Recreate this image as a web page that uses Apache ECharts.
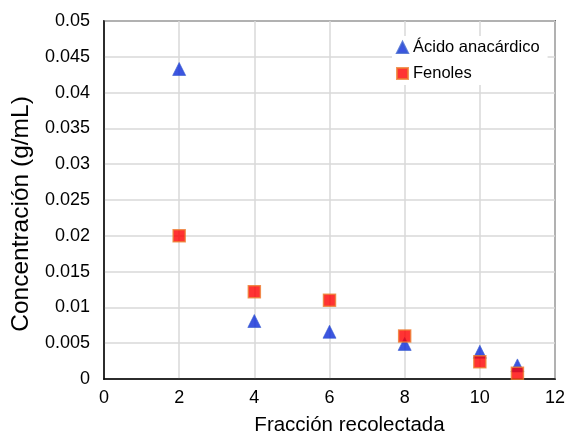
<!DOCTYPE html>
<html>
<head>
<meta charset="utf-8">
<script src="https://cdn.jsdelivr.net/npm/echarts@6/dist/echarts.min.js"></script>
<style>
  html, body { margin: 0; padding: 0; background: #fff; }
  #chart { width: 565px; height: 432px; }
</style>
</head>
<body>
<div id="chart"></div>
<script>
// Fraction numbers and measured concentrations (g/mL)
const fracciones = [2, 4, 6, 8, 10, 11];
const acidoAnacardico = [0.0433, 0.0081, 0.0066, 0.0049, 0.0038, 0.0019];
const fenoles = [0.0200, 0.0122, 0.0110, 0.0060, 0.0024, 0.0008];

const FONT = '"Liberation Sans", Arial, sans-serif';

const toPairs = (xs, ys) => xs.map((x, i) => [x, ys[i]]);

const chart = echarts.init(document.getElementById('chart'), null, { renderer: 'canvas' });

chart.setOption({
  animation: false,
  backgroundColor: '#ffffff',
  grid: { left: 104, right: 10, top: 21, bottom: 53, containLabel: false,
          outerBoundsMode: 'none',
          show: true, borderColor: '#000', borderWidth: 1.5 },
  legend: {
    orient: 'vertical',
    left: 392,
    top: 36,
    backgroundColor: '#ffffff',
    padding: [3, 8, 3, 4],
    itemWidth: 11,
    itemHeight: 11,
    itemGap: 9,
    textStyle: { fontFamily: FONT, fontSize: 16.5, color: '#000' },
    data: [
      { name: 'Ácido anacárdico', icon: 'triangle' },
      { name: 'Fenoles', icon: 'rect' }
    ]
  },
  xAxis: {
    type: 'value',
    min: 0, max: 12, interval: 2,
    name: 'Fracción recolectada',
    nameLocation: 'middle',
    nameGap: 36,
    nameTextStyle: { fontFamily: FONT, fontSize: 20.5, color: '#000', padding: [0, 0, 0, 40] },
    axisLine: { show: true, lineStyle: { color: '#000', width: 1.5 } },
    axisTick: { show: false },
    axisLabel: { fontFamily: FONT, fontSize: 18, color: '#000', margin: 10 },
    splitLine: { show: true, lineStyle: { color: '#d9d9d9', width: 1.5 } }
  },
  yAxis: {
    type: 'value',
    min: 0, max: 0.05, interval: 0.005,
    name: 'Concentración (g/mL)',
    nameLocation: 'middle',
    nameGap: 69,
    nameTextStyle: { fontFamily: FONT, fontSize: 24.5, color: '#000', padding: [0, 28, 0, 0] },
    axisLine: { show: true, lineStyle: { color: '#000', width: 1.5 } },
    axisTick: { show: false },
    axisLabel: { fontFamily: FONT, fontSize: 18, color: '#000', margin: 14,
                 formatter: v => String(parseFloat(v.toFixed(3))) },
    splitLine: { show: true, lineStyle: { color: '#d9d9d9', width: 1.5 } }
  },
  series: [
    {
      name: 'Ácido anacárdico',
      type: 'scatter',
      symbol: 'triangle',
      symbolSize: 13,
      z: 3,
      itemStyle: { color: '#0b2bd8', borderColor: '#3a5fd0', borderWidth: 0.8 },
      data: toPairs(fracciones, acidoAnacardico)
    },
    {
      name: 'Fenoles',
      type: 'scatter',
      symbol: 'rect',
      symbolSize: 12,
      z: 4,
      itemStyle: { color: '#ff0000', borderColor: '#ed7d31', borderWidth: 1.5 },
      data: toPairs(fracciones, fenoles)
    }
  ]
});
</script>
</body>
</html>
